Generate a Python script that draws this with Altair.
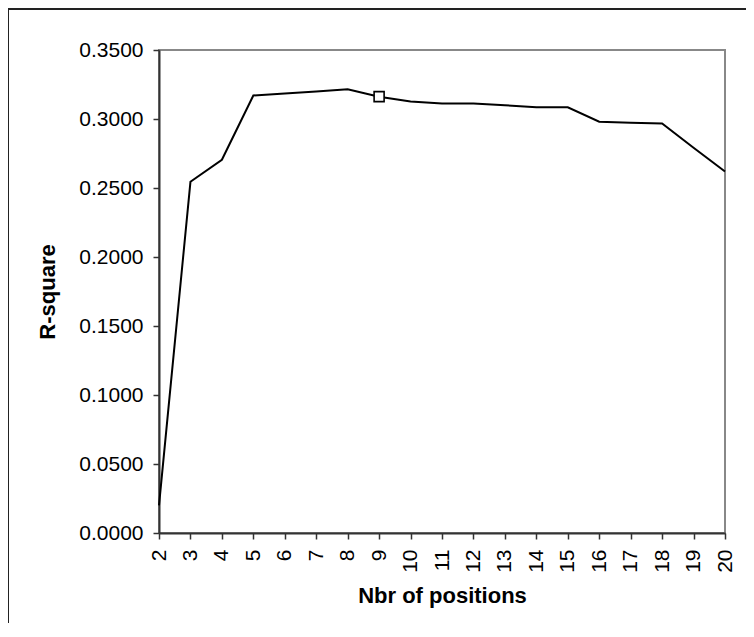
import altair as alt
import pandas as pd

# --- data ---
positions = [2, 3, 4, 5, 6, 7, 8, 9, 10, 11, 12, 13, 14, 15, 16, 17, 18, 19, 20]
r_square = [0.0200, 0.2545, 0.2705, 0.3170, 0.3185, 0.3200, 0.3215, 0.3162, 0.3127,
            0.3113, 0.3113, 0.3100, 0.3085, 0.3085, 0.2980, 0.2972, 0.2967, 0.2792, 0.2620]
marked_positions = [9]
y_ticks = [0.0, 0.05, 0.10, 0.15, 0.20, 0.25, 0.30, 0.35]
x_ticks = positions

df = pd.DataFrame({"pos": positions, "r2": r_square})
marked = df[df["pos"].isin(marked_positions)]

FONT = "Liberation Sans"

x_enc = alt.X(
    "pos:Q",
    scale=alt.Scale(domain=[2, 20], nice=False, zero=False),
    axis=alt.Axis(
        title="Nbr of positions",
        values=x_ticks,
        tickCount=len(x_ticks),
        format="d",
        labelAngle=270,
        labelPadding=10,
        labelOverlap=False,
        labelFlush=False,
        labelBound=False,
        tickSize=6,
        grid=False,
        titlePadding=13,
    ),
)
y_enc = alt.Y(
    "r2:Q",
    scale=alt.Scale(domain=[0, 0.35], nice=False),
    axis=alt.Axis(
        title="R-square",
        values=y_ticks,
        format=".4f",
        labelPadding=10,
        labelOverlap=False,
        labelFlush=False,
        tickSize=6,
        grid=False,
        titlePadding=19,
    ),
)

line = alt.Chart(df).mark_line(color="black", strokeWidth=2).encode(x=x_enc, y=y_enc)

marker = alt.Chart(marked).mark_point(
    shape="square", size=100, filled=False, color="black", strokeWidth=1.6,
    fill="white", fillOpacity=1, opacity=1
).encode(x=x_enc, y=y_enc)

frame = alt.Chart(pd.DataFrame({"a": [0]})).mark_rect(
    fill=None, stroke="#222222", strokeWidth=2
).encode(
    x=alt.value(-151), x2=alt.value(601), y=alt.value(-41), y2=alt.value(595)
)

chart = alt.layer(frame, line, marker).properties(
    width=566,
    height=483,
    autosize="none",
    padding={"left": 151, "top": 42, "right": 21, "bottom": 90},
    background="white",
).configure_view(
    stroke="#888888", strokeWidth=2
).configure_axis(
    labelFont=FONT,
    titleFont=FONT,
    labelFontSize=21,
    titleFontSize=22,
    labelColor="black",
    titleColor="black",
    titleFontWeight="bold",
    domainColor="#333333",
    domainWidth=2,
    tickColor="#333333",
    tickWidth=1.5,
)

chart.save("out.html", embed_options={"renderer": "svg", "actions": False})
